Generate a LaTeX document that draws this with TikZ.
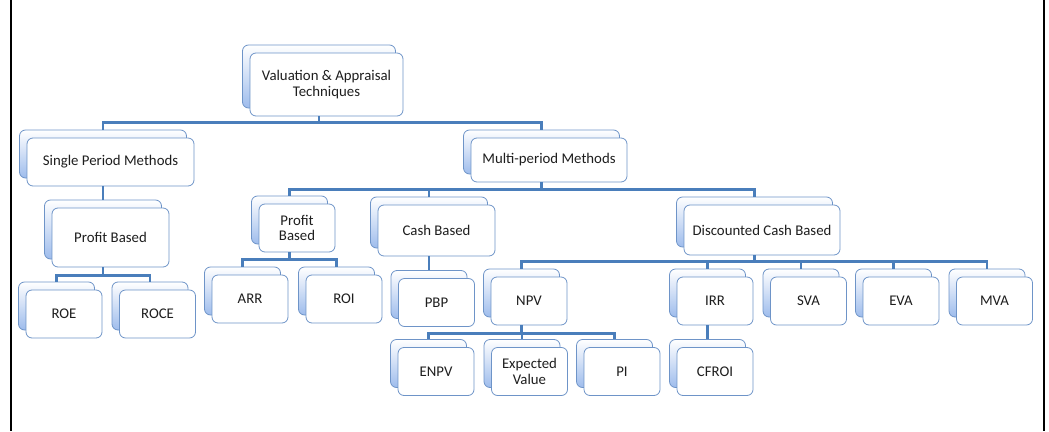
\documentclass[tikz,border=0pt]{standalone}
\usepackage{fontspec}
\setmainfont{Carlito}
\usetikzlibrary{shadows}

\definecolor{linkblue}{RGB}{74,126,187}
\definecolor{edgeblue}{RGB}{110,148,200}
\definecolor{paleblue}{RGB}{158,188,236}
\definecolor{inktext}{RGB}{30,30,30}

\begin{document}
\begin{tikzpicture}[x=1pt, y=-1pt,
    box/.style={draw=edgeblue, line width=0.8pt, fill=white, rounded corners=6pt,
        text=inktext, align=center, inner sep=1pt, minimum width=76pt, minimum height=48pt,
        general shadow={shadow xshift=-7.5pt, shadow yshift=8pt, draw=edgeblue,
            line width=0.8pt, top color=white, bottom color=paleblue}},
    link/.style={draw=linkblue, line width=2.6pt},
    frame/.style={draw=black, line width=2.4pt}]
        \fontsize{14.8}{15.5}\selectfont
        \useasboundingbox (0,0) rectangle (1049,431);
        \draw[frame] (11,0) -- (11,431);
        \draw[frame] (1044,0) -- (1044,431);

        \node[box, minimum width=153pt, minimum height=63pt](Valuation) at (326.5,84.5) {Valuation \& Appraisal\\Techniques};
        \node[box, minimum width=167pt](Single period) at (110.5,162) {Single Period Methods};
        \node[box, minimum width=156pt, minimum height=44pt](Multi period) at (549,160) {Multi-period Methods};

        \node[box, minimum width=117pt, minimum height=59pt](Profit single) at (110.5,237.5) {Profit Based};
        \node[box](ROE) at (64,314) {ROE};
        \node[box](ROCE) at (157.5,314) {ROCE};

        \node[box](Profit multi) at (297,228) {Profit\\Based};
        \node[box, minimum width=117pt, minimum height=51pt](Cash) at (436.5,230.5) {Cash Based};
        \node[box, minimum width=156pt, minimum height=50pt](Discounted) at (762,230) {Discounted Cash Based};

        \node[box](ARR) at (250,299) {ARR};
        \node[box](ROI) at (344,299) {ROI};
        \node[box](PBP) at (436.5,302.5) {PBP};
        \node[box](NPV) at (529,301) {NPV};
        \node[box](IRR) at (715,301) {IRR};
        \node[box](SVA) at (808.5,301) {SVA};
        \node[box](EVA) at (901,301) {EVA};
        \node[box](MVA) at (994.5,301) {MVA};

        \node[box](ENPV) at (436,371.5) {ENPV};
        \node[box](Expected value) at (529.5,371.5) {Expected\\Value};
        \node[box](PI) at (622,371.5) {PI};
        \node[box](CFROI) at (715,371.5) {CFROI};

        % tree links: down to the bus, across, down into the child
        \draw[link] ([xshift=-7.5]Valuation.south) -- ++(0,6) -| ([xshift=-7.5,yshift=8]Single period.north);
        \draw[link] ([xshift=-7.5]Valuation.south) -- ++(0,6) -| ([xshift=-7.5,yshift=8]Multi period.north);

        \draw[link] ([xshift=-7.5]Single period.south) -- ([xshift=-7.5,yshift=8]Profit single.north);
        \draw[link] ([xshift=-7.5]Profit single.south) -- ++(0,8) -| ([xshift=-7.5,yshift=8]ROE.north);
        \draw[link] ([xshift=-7.5]Profit single.south) -- ++(0,8) -| ([xshift=-7.5,yshift=8]ROCE.north);

        \draw[link] ([xshift=-7.5]Multi period.south) -- ++(0,7) -| ([xshift=-7.5,yshift=8]Profit multi.north);
        \draw[link] ([xshift=-7.5]Multi period.south) -- ++(0,7) -| ([xshift=-7.5,yshift=8]Cash.north);
        \draw[link] ([xshift=-7.5]Multi period.south) -- ++(0,7) -| ([xshift=-7.5,yshift=8]Discounted.north);

        \draw[link] ([xshift=-7.5]Profit multi.south) -- ++(0,7) -| ([xshift=-7.5,yshift=8]ARR.north);
        \draw[link] ([xshift=-7.5]Profit multi.south) -- ++(0,7) -| ([xshift=-7.5,yshift=8]ROI.north);
        \draw[link] ([xshift=-7.5]Cash.south) -- ([xshift=-7.5,yshift=8]PBP.north);

        \foreach \leaf in {NPV, IRR, SVA, EVA, MVA}
            \draw[link] ([xshift=-7.5]Discounted.south) -- ++(0,6) -| ([xshift=-7.5,yshift=8]\leaf.north);

        \foreach \leaf in {ENPV, Expected value, PI}
            \draw[link] ([xshift=-7.5]NPV.south) -- ++(0,8) -| ([xshift=-7.5,yshift=8]\leaf.north);
        \draw[link] ([xshift=-7.5]IRR.south) -- ([xshift=-7.5,yshift=8]CFROI.north);
    \end{tikzpicture}
\end{document}
